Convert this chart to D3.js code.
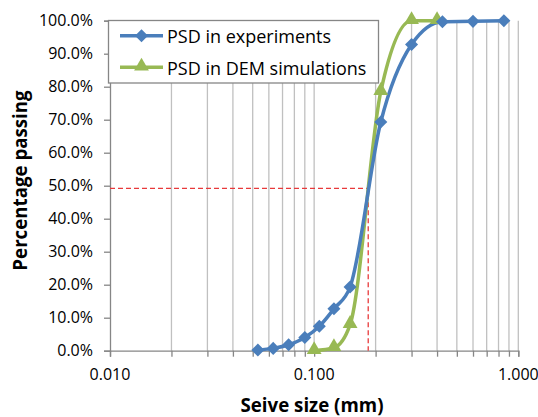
<!DOCTYPE html>
<html>
<head>
<meta charset="utf-8">
<script src="https://cdn.jsdelivr.net/npm/d3@7"></script>
<style>
  body { margin: 0; background: #fff; }
  svg { display: block; font-family: "Open Sans", sans-serif; }
</style>
</head>
<body>
<div id="chart"></div>
<script>
// sieve sizes (mm) and percentage passing
var expSize = [0.053, 0.063, 0.075, 0.090, 0.106, 0.125, 0.150, 0.212, 0.300, 0.425, 0.600, 0.850];
var expPass = [0.002, 0.007, 0.018, 0.040, 0.074, 0.127, 0.193, 0.693, 0.928, 0.997, 0.998, 1.000];
var demSize = [0.100, 0.125, 0.150, 0.212, 0.300, 0.400];
var demPass = [0.000, 0.009, 0.079, 0.785, 1.000, 1.000];
// D50 guide
var d50Size = 0.184;
var d50Pass = 0.492;

var xTickLabels = [0.01, 0.1, 1];
var yTickValues = [0, 0.1, 0.2, 0.3, 0.4, 0.5, 0.6, 0.7, 0.8, 0.9, 1.0];
var legendNames = ["PSD in experiments", "PSD in DEM simulations"];

var width = 538, height = 417;
var blue = "#4a7ebb", green = "#98b954", axisCol = "#868686", gridCol = "#c0c0c0";
var font = "'Open Sans', sans-serif";

var svg = d3.select("#chart").append("svg")
  .attr("width", width)
  .attr("height", height);

var x = d3.scaleLog().domain([0.01, 1]).range([110, 518.3]);
var y = d3.scaleLinear().domain([0, 1]).range([350.7, 20.7]);

// vertical grid at every log tick
var gridTicks = x.ticks().filter(function (d) { return d > 0.0101; });
svg.append("g").selectAll("line")
  .data(gridTicks)
  .enter().append("line")
  .attr("x1", function (d) { return x(d); })
  .attr("x2", function (d) { return x(d); })
  .attr("y1", y(1))
  .attr("y2", y(0))
  .attr("stroke", gridCol)
  .attr("stroke-width", 1.3);

// x axis
var xAxis = svg.append("g")
  .attr("transform", "translate(0," + y(0) + ")")
  .call(d3.axisBottom(x).tickValues(x.ticks()).tickSize(6).tickFormat(""));
xAxis.select(".domain").attr("stroke", axisCol).attr("stroke-width", 1.3);
xAxis.selectAll(".tick line").attr("stroke", axisCol).attr("stroke-width", 1.3);

svg.append("g").selectAll("text")
  .data(xTickLabels)
  .enter().append("text")
  .attr("x", function (d) { return x(d); })
  .attr("y", 380)
  .attr("text-anchor", "middle")
  .style("font-family", font)
  .style("font-size", "16px")
  .style("fill", "#000")
  .text(d3.format(".3f"));

// y axis
var yAxis = svg.append("g")
  .attr("transform", "translate(" + x(0.01) + ",0)")
  .call(d3.axisLeft(y).tickValues(yTickValues).tickSize(6).tickPadding(11).tickFormat(d3.format(".1%")));
yAxis.select(".domain").attr("stroke", axisCol).attr("stroke-width", 1.3);
yAxis.selectAll(".tick line").attr("stroke", axisCol).attr("stroke-width", 1.3);
yAxis.selectAll(".tick text")
  .style("font-size", "16px")
  .style("font-family", font)
  .style("fill", "#000");

// axis titles
svg.append("text")
  .attr("x", 312)
  .attr("y", 411.5)
  .attr("text-anchor", "middle")
  .style("font-family", font)
  .style("font-size", "18.7px")
  .style("font-weight", "bold")
  .text("Seive size (mm)");

svg.append("text")
  .attr("transform", "translate(26.5,180.5) rotate(-90)")
  .attr("text-anchor", "middle")
  .style("font-family", font)
  .style("font-size", "18.7px")
  .style("font-weight", "bold")
  .text("Percentage passing");

// D50 dashed guides
svg.append("path")
  .attr("d", "M" + x(0.01) + "," + y(d50Pass) + "H" + x(d50Size) + "V" + y(0))
  .attr("fill", "none")
  .attr("stroke", "#e8393b")
  .attr("stroke-width", 1.3)
  .attr("stroke-dasharray", "5,3");

// curves
var line = d3.line()
  .x(function (d) { return x(d[0]); })
  .y(function (d) { return y(d[1]); })
  .curve(d3.curveMonotoneX);

var expData = d3.zip(expSize, expPass);
var demData = d3.zip(demSize, demPass);

svg.append("path").datum(demData)
  .attr("d", line).attr("fill", "none")
  .attr("stroke", green).attr("stroke-width", 3.5);
svg.append("path").datum(expData)
  .attr("d", line).attr("fill", "none")
  .attr("stroke", blue).attr("stroke-width", 3.5);

var diamond = d3.symbol().type(d3.symbolSquare).size(85);
var triangle = d3.symbol().type(d3.symbolTriangle).size(95);

svg.append("g").selectAll("path")
  .data(demData)
  .enter().append("path")
  .attr("d", triangle)
  .attr("transform", function (d) { return "translate(" + x(d[0]) + "," + (y(d[1]) - 1) + ")"; })
  .attr("fill", green);

svg.append("g").selectAll("path")
  .data(expData)
  .enter().append("path")
  .attr("d", diamond)
  .attr("transform", function (d) { return "translate(" + x(d[0]) + "," + y(d[1]) + ") rotate(45)"; })
  .attr("fill", blue);

// legend
var lg = svg.append("g");
lg.append("rect")
  .attr("x", 108.5).attr("y", 20.5)
  .attr("width", 270).attr("height", 62.5)
  .attr("fill", "#fff")
  .attr("stroke", axisCol)
  .attr("stroke-width", 1.3);

var items = lg.selectAll("g.item")
  .data(legendNames)
  .enter().append("g")
  .attr("class", "item")
  .attr("transform", function (d, i) { return "translate(0," + (35.7 + i * 31.6) + ")"; });

items.append("line")
  .attr("x1", 120).attr("x2", 163)
  .attr("stroke", function (d, i) { return i === 0 ? blue : green; })
  .attr("stroke-width", 3.5);
items.append("path")
  .attr("d", function (d, i) { return i === 0 ? diamond() : triangle(); })
  .attr("transform", function (d, i) { return "translate(141.5," + (i === 0 ? 0 : -1) + ")" + (i === 0 ? " rotate(45)" : ""); })
  .attr("fill", function (d, i) { return i === 0 ? blue : green; });
items.append("text")
  .attr("x", 167)
  .attr("y", 7.6)
  .style("font-family", font)
  .style("font-size", "18px")
  .text(function (d) { return d; });
</script>
</body>
</html>
